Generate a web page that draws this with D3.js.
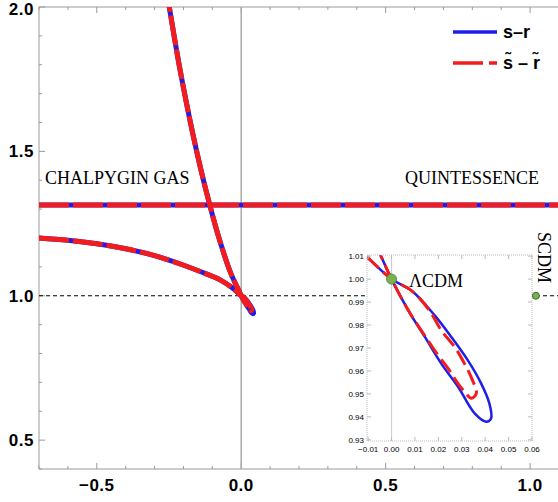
<!DOCTYPE html>
<html>
<head>
<meta charset="utf-8">
<script src="https://cdn.jsdelivr.net/npm/d3@7"></script>
<style>
  body { margin: 0; background: #fff; }
  svg { display: block; }
</style>
</head>
<body>
<script>
// trajectories in the (s, r) plane: [s, r]
var lowerBranch = [[-0.70, 1.200], [-0.60, 1.192], [-0.50, 1.180], [-0.40, 1.163], [-0.30, 1.139],
  [-0.211, 1.110], [-0.142, 1.084], [-0.073, 1.055], [-0.028, 1.025], [-0.011, 1.0101], [0, 1]];
var steepBranch = [[0, 1], [-0.0052, 1.0115], [-0.037, 1.08], [-0.077, 1.20], [-0.108, 1.311],
  [-0.138, 1.43], [-0.1695, 1.57], [-0.192, 1.68], [-0.215, 1.80], [-0.234, 1.91],
  [-0.249, 2.0], [-0.262, 2.08]];
var loopSR = [[0.0086, 0.9949], [0.0185, 0.9841], [0.0256, 0.9747], [0.0326, 0.9646], [0.0383, 0.9545],
  [0.0418, 0.9458], [0.0425, 0.9393], [0.0404, 0.9379], [0.0355, 0.9415], [0.0284, 0.9531],
  [0.0213, 0.9631], [0.0143, 0.9747], [0.0072, 0.9863]];
var loopTilde = [[0.0086, 0.9949], [0.0160, 0.9866], [0.0213, 0.9776], [0.0270, 0.9704], [0.0312, 0.9631],
  [0.0341, 0.9571], [0.0362, 0.9502], [0.0341, 0.9481], [0.0312, 0.9509], [0.0284, 0.9545],
  [0.0242, 0.9610], [0.0199, 0.9668], [0.0143, 0.9752], [0.0072, 0.9863]];
var flatBranch = [[-0.7, 1.314], [1.1, 1.314]];

var lcdm = [0, 1];
var scdm = [1.02, 1.0];

var xTicks = [-0.5, 0.0, 0.5, 1.0];
var yTicks = [0.5, 1.0, 1.5, 2.0];
var insetXTicks = [-0.01, 0.00, 0.01, 0.02, 0.03, 0.04, 0.05, 0.06];
var insetYTicks = [0.93, 0.94, 0.95, 0.96, 0.97, 0.98, 0.99, 1.00, 1.01];

var legendLabels = ['s\u2013r', 's\u0303 \u2013 r\u0303'];

var sr = lowerBranch.concat(loopSR, steepBranch);
var srTilde = lowerBranch.concat(loopTilde, steepBranch);

var blue = '#1e1ee8', red = '#f21c1c', frameCol = '#9a9a9a';

var svg = d3.select('body').append('svg')
  .attr('width', 558)
  .attr('height', 502);

var x = d3.scaleLinear().domain([-0.7, 1.1]).range([39, 559]);
var y = d3.scaleLinear().domain([0.4, 2.0]).range([469, 7]);

svg.append('clipPath').attr('id', 'mainclip')
  .append('rect').attr('x', 39).attr('y', 7).attr('width', 520).attr('height', 462);

// frame + ticks
var frame = svg.append('g').attr('stroke', frameCol).attr('stroke-width', 1);
frame.append('line').attr('x1', 39).attr('x2', 559).attr('y1', 7).attr('y2', 7);
frame.append('line').attr('x1', 39).attr('x2', 559).attr('y1', 469).attr('y2', 469);
frame.append('line').attr('x1', 39).attr('x2', 39).attr('y1', 7).attr('y2', 469);

var xMinor = d3.range(-0.7, 1.11, 0.1).map(function(d) { return Math.round(d * 10) / 10; });
var yMinor = d3.range(0.4, 2.01, 0.1).map(function(d) { return Math.round(d * 10) / 10; });

xMinor.forEach(function(d) {
  var major = xTicks.indexOf(d) >= 0;
  var len = major ? 6 : 3;
  frame.append('line').attr('x1', x(d)).attr('x2', x(d)).attr('y1', 469).attr('y2', 469 - len);
  frame.append('line').attr('x1', x(d)).attr('x2', x(d)).attr('y1', 7).attr('y2', 7 + len);
});
yMinor.forEach(function(d) {
  var major = yTicks.indexOf(d) >= 0;
  var len = major ? 6 : 3;
  frame.append('line').attr('x1', 39).attr('x2', 39 + len).attr('y1', y(d)).attr('y2', y(d));
});

var tickFont = 'bold 17px "Liberation Sans", Arial, sans-serif';
svg.append('g').selectAll('text')
  .data(xTicks)
  .enter().append('text')
    .attr('x', function(d) { return x(d); })
    .attr('y', 491)
    .attr('text-anchor', 'middle')
    .style('font', tickFont)
    .style('letter-spacing', '0.5px')
    .text(function(d) { return d3.format('.1f')(d).replace('-', '\u2212'); });

svg.append('g').selectAll('text')
  .data(yTicks)
  .enter().append('text')
    .attr('x', 34)
    .attr('y', function(d) { return Math.max(y(d), 9); })
    .attr('dy', '0.36em')
    .attr('text-anchor', 'end')
    .style('font', tickFont)
    .style('letter-spacing', '0.5px')
    .text(function(d) { return d3.format('.1f')(d); });

// s = 0 line and r = 1 reference
svg.append('line')
  .attr('x1', x(0)).attr('x2', x(0)).attr('y1', 7).attr('y2', 469)
  .attr('stroke', '#aaa').attr('stroke-width', 1.5);
svg.append('line')
  .attr('x1', 39).attr('x2', 559).attr('y1', y(1)).attr('y2', y(1))
  .attr('stroke', '#000').attr('stroke-width', 1).attr('stroke-dasharray', '4,3');

var line = d3.line()
  .x(function(d) { return x(d[0]); })
  .y(function(d) { return y(d[1]); })
  .curve(d3.curveCatmullRom);

var curves = svg.append('g').attr('clip-path', 'url(#mainclip)').attr('fill', 'none');
[sr, flatBranch].forEach(function(s) {
  curves.append('path').attr('d', line(s)).attr('stroke', blue).attr('stroke-width', 5);
});
[srTilde, flatBranch].forEach(function(s) {
  curves.append('path').attr('d', line(s)).attr('stroke', red).attr('stroke-width', 5)
    .attr('stroke-dasharray', '30,4');
});

// labels
var serif = '18px "Liberation Serif", "Times New Roman", serif';
svg.append('text').attr('x', 45).attr('y', 184).style('font', serif).text('CHALPYGIN GAS');
svg.append('text').attr('x', 539).attr('y', 184).attr('text-anchor', 'end').style('font', serif).text('QUINTESSENCE');

// legend
var legend = svg.append('g');
legend.append('line').attr('x1', 453).attr('x2', 497).attr('y1', 32).attr('y2', 32)
  .attr('stroke', blue).attr('stroke-width', 3.5);
legend.append('line').attr('x1', 453).attr('x2', 497).attr('y1', 63).attr('y2', 63)
  .attr('stroke', red).attr('stroke-width', 3.5).attr('stroke-dasharray', '30,6');
legend.selectAll('text')
  .data(legendLabels)
  .enter().append('text')
    .attr('x', 503)
    .attr('y', function(d, i) { return 38 + i * 31; })
    .style('font', 'bold 18px "Liberation Sans", Arial, sans-serif')
    .text(function(d) { return d; });

// inset
var ix = d3.scaleLinear().domain([-0.0105, 0.06]).range([367, 532]);
var iy = d3.scaleLinear().domain([0.9295, 1.0105]).range([441, 255]);

var inset = svg.append('g');
inset.append('rect').attr('x', 367).attr('y', 255).attr('width', 165).attr('height', 186)
  .attr('fill', '#fff');
inset.append('clipPath').attr('id', 'insetclip')
  .append('rect').attr('x', 367).attr('y', 255).attr('width', 165).attr('height', 186);
inset.append('line').attr('x1', ix(0)).attr('x2', ix(0)).attr('y1', 255).attr('y2', 441)
  .attr('stroke', '#ccc').attr('stroke-width', 1);

var iline = d3.line()
  .x(function(d) { return ix(d[0]); })
  .y(function(d) { return iy(d[1]); })
  .curve(d3.curveCatmullRom);

var icurves = inset.append('g').attr('clip-path', 'url(#insetclip)').attr('fill', 'none');
icurves.append('path').attr('d', iline(sr)).attr('stroke', blue).attr('stroke-width', 2.5);
icurves.append('path').attr('d', iline(srTilde)).attr('stroke', red).attr('stroke-width', 3)
  .attr('stroke-dasharray', '16,6');

var iframe = inset.append('g').attr('stroke', '#bbb').attr('stroke-width', 1).attr('fill', 'none');
iframe.append('rect').attr('x', 367).attr('y', 255).attr('width', 165).attr('height', 186)
  .attr('stroke-dasharray', '1,1');
insetXTicks.forEach(function(d) {
  iframe.append('line').attr('x1', ix(d)).attr('x2', ix(d)).attr('y1', 441).attr('y2', 437);
  iframe.append('line').attr('x1', ix(d)).attr('x2', ix(d)).attr('y1', 255).attr('y2', 259);
});
insetYTicks.forEach(function(d) {
  iframe.append('line').attr('x1', 367).attr('x2', 371).attr('y1', iy(d)).attr('y2', iy(d));
  iframe.append('line').attr('x1', 532).attr('x2', 528).attr('y1', iy(d)).attr('y2', iy(d));
});

var small = '8px "Liberation Sans", Arial, sans-serif';
inset.append('g').selectAll('text')
  .data(insetXTicks)
  .enter().append('text')
    .attr('x', function(d) { return ix(d); })
    .attr('y', 452)
    .attr('text-anchor', 'middle')
    .style('font', small)
    .text(function(d) { return d3.format('.2f')(d).replace('-', '\u2212'); });
inset.append('g').selectAll('text')
  .data(insetYTicks)
  .enter().append('text')
    .attr('x', 364)
    .attr('y', function(d) { return iy(d); })
    .attr('dy', '0.35em')
    .attr('text-anchor', 'end')
    .style('font', small)
    .text(function(d) { return d3.format('.2f')(d); });

inset.append('circle').attr('cx', ix(lcdm[0])).attr('cy', iy(lcdm[1])).attr('r', 5)
  .attr('fill', '#78b24e').attr('stroke', '#5a8f3a').attr('stroke-width', 1);
inset.append('text').attr('x', 409).attr('y', 287).style('font', serif).text('\u039BCDM');

svg.append('circle').attr('cx', x(scdm[0])).attr('cy', y(scdm[1])).attr('r', 3.5)
  .attr('fill', '#78b24e').attr('stroke', '#3f6b2a').attr('stroke-width', 1);
svg.append('text')
  .attr('transform', 'translate(538,232) rotate(90)')
  .style('font', serif)
  .text('SCDM');
</script>
</body>
</html>
